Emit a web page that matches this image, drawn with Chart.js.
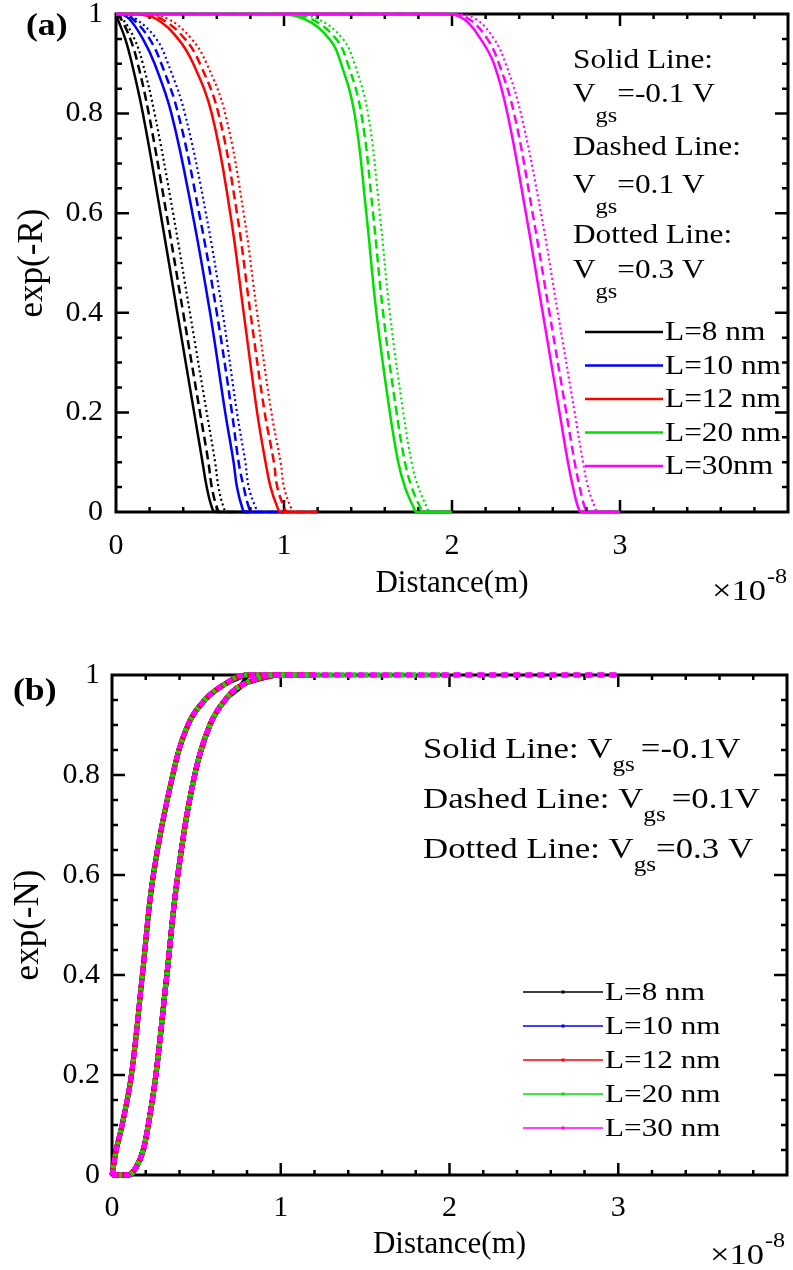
<!DOCTYPE html>
<html>
<head>
<meta charset="utf-8">
<script src="https://cdn.jsdelivr.net/npm/chart.js@4.4.1/dist/chart.umd.min.js"></script>
<style>
  html, body { margin: 0; padding: 0; background: #fff; }
  .panel { position: absolute; left: 0; width: 793px; }
  #panelA { top: 0; height: 620px; }
  #panelB { top: 620px; height: 650px; }
</style>
</head>
<body>
<div class="panel" id="panelA"><canvas id="chartA"></canvas></div>
<div class="panel" id="panelB"><canvas id="chartB"></canvas></div>
<script>
// channel lengths and their legend texts
const lengthsNm = [8, 10, 12, 20, 30];
const legendA = ['L=8 nm', 'L=10 nm', 'L=12 nm', 'L=20 nm', 'L=30nm'];
const legendB = ['L=8 nm', 'L=10 nm', 'L=12 nm', 'L=20 nm', 'L=30 nm'];
const lineColors = ['#000000', '#0000ff', '#ff0000', '#00e000', '#ff00ff'];

const xTickLabels = ['0', '1', '2', '3'];
const yTickLabels = ['0', '0.2', '0.4', '0.6', '0.8', '1'];

// exp(-R): levels, and the distance (x1e-8 m) where each curve passes them
const rLevels = [1, 0.99, 0.95, 0.9, 0.8, 0.6, 0.4, 0.2, 0.1, 0.05, 0.01, 0];
const rSolid = [
  [0.00, 0.01, 0.055, 0.095, 0.16, 0.265, 0.365, 0.465, 0.515, 0.54, 0.57, 0.59],
  [0.03, 0.08, 0.16, 0.23, 0.33, 0.455, 0.56, 0.65, 0.70, 0.72, 0.75, 0.77],
  [0.12, 0.24, 0.37, 0.46, 0.57, 0.68, 0.76, 0.84, 0.89, 0.92, 0.96, 0.98],
  [0.95, 1.12, 1.27, 1.34, 1.42, 1.49, 1.55, 1.63, 1.68, 1.72, 1.77, 1.79],
  [1.95, 2.07, 2.17, 2.25, 2.33, 2.44, 2.54, 2.64, 2.69, 2.72, 2.75, 2.77]
];
const rDashed = [
  [0.00, 0.03, 0.085, 0.13, 0.195, 0.30, 0.40, 0.50, 0.55, 0.57, 0.60, 0.62],
  [0.04, 0.10, 0.20, 0.27, 0.37, 0.495, 0.60, 0.69, 0.73, 0.76, 0.79, 0.81],
  [0.14, 0.27, 0.41, 0.50, 0.61, 0.72, 0.80, 0.885, 0.94, 0.96, 1.00, 1.02],
  [0.99, 1.16, 1.31, 1.38, 1.46, 1.53, 1.59, 1.67, 1.72, 1.76, 1.81, 1.83],
  [1.98, 2.10, 2.21, 2.28, 2.37, 2.48, 2.58, 2.68, 2.73, 2.76, 2.79, 2.81]
];
const rDotted = [
  [0.00, 0.04, 0.11, 0.16, 0.23, 0.34, 0.44, 0.54, 0.59, 0.61, 0.64, 0.66],
  [0.05, 0.12, 0.24, 0.31, 0.41, 0.535, 0.635, 0.72, 0.77, 0.79, 0.83, 0.85],
  [0.16, 0.31, 0.45, 0.54, 0.65, 0.76, 0.84, 0.925, 0.98, 1.00, 1.04, 1.06],
  [1.03, 1.20, 1.35, 1.42, 1.50, 1.57, 1.63, 1.71, 1.76, 1.80, 1.85, 1.87],
  [2.01, 2.14, 2.25, 2.32, 2.41, 2.53, 2.63, 2.73, 2.78, 2.81, 2.85, 2.87]
];

// exp(-N): same for every L, two bundles
const nLevels = [0, 0.02, 0.05, 0.1, 0.2, 0.4, 0.6, 0.8, 0.9, 0.95, 0.98, 1];
const nSolid = [0.10, 0.15, 0.185, 0.215, 0.26, 0.325, 0.39, 0.49, 0.58, 0.67, 0.77, 0.97];
const nDashed = [0.10, 0.15, 0.185, 0.215, 0.26, 0.325, 0.39, 0.49, 0.58, 0.67, 0.77, 0.97];
const nDotted = [0.00, 0.01, 0.025, 0.06, 0.115, 0.18, 0.245, 0.36, 0.45, 0.55, 0.66, 0.79];

const serif = "'Liberation Serif', 'Times New Roman', serif";

// flat start at x=0, the read crossings, then flat until the channel end
function curvePoints(xs, levels, endX) {
  const pts = [{x: 0, y: levels[0]}];
  xs.forEach((x, k) => {
    if (x > pts[pts.length - 1].x && x < endX) pts.push({x: x, y: levels[k]});
  });
  pts.push({x: endX, y: levels[levels.length - 1]});
  return pts;
}

function stretchText(ctx, text, x, y, font, sx) {
  ctx.save();
  ctx.font = font;
  ctx.translate(x, y);
  ctx.scale(sx, 1);
  ctx.fillText(text, 0, 0);
  const w = ctx.measureText(text).width * sx;
  ctx.restore();
  return w;
}

// "<lead>V" with a "gs" subscript and the value after it
function drawVgs(ctx, x, y, lead, value, o) {
  const main = o.size + 'px ' + serif;
  const sub = o.subSize + 'px ' + serif;
  let w = stretchText(ctx, lead + 'V', x, y, main, o.sx);
  w += stretchText(ctx, 'gs', x + w, y + o.subDy, sub, o.sx);
  stretchText(ctx, value, x + w + o.gap, y, main, o.sx);
}

// box frame with inward major/minor ticks on all four sides
const inwardTicks = {
  id: 'inwardTicks',
  beforeDatasetsDraw(chart) {
    const {ctx, chartArea: a, scales: {x, y}} = chart;
    ctx.save();
    ctx.strokeStyle = '#000';
    ctx.lineWidth = 3;
    ctx.strokeRect(a.left, a.top, a.width, a.height);
    ctx.lineWidth = 2.5;
    ctx.beginPath();
    for (let i = 1; i < 20; i++) {
      const px = x.getPixelForValue(i * 0.2);
      const len = i % 5 === 0 ? 12 : 5;
      ctx.moveTo(px, a.bottom); ctx.lineTo(px, a.bottom - len);
      ctx.moveTo(px, a.top); ctx.lineTo(px, a.top + len);
    }
    for (let j = 1; j < 20; j++) {
      const py = y.getPixelForValue(j * 0.05);
      const len = j % 4 === 0 ? 13 : 6;
      ctx.moveTo(a.left, py); ctx.lineTo(a.left + len, py);
      ctx.moveTo(a.right, py); ctx.lineTo(a.right - len, py);
    }
    ctx.stroke();
    ctx.restore();
  }
};

// panel letter, V_gs notes, legend and the x10^-8 factor
const notes = {
  id: 'notes',
  afterDraw(chart, args, opts) {
    const ctx = chart.ctx;
    ctx.save();
    ctx.fillStyle = '#000';
    ctx.textBaseline = 'alphabetic';
    ctx.textAlign = 'left';
    stretchText(ctx, opts.panel, opts.panelX, opts.panelY, 'bold 31px ' + serif, 1.15);

    opts.text.forEach(t => {
      if (t.value === undefined) {
        stretchText(ctx, t.lead, t.x, t.y, opts.vgs.size + 'px ' + serif, opts.vgs.sx);
      } else {
        drawVgs(ctx, t.x, t.y, t.lead, t.value, Object.assign({}, opts.vgs, t.o));
      }
    });

    const lg = opts.legend;
    lg.names.forEach((name, i) => {
      const yy = lg.y0 + i * lg.dy;
      ctx.strokeStyle = lineColors[i];
      ctx.lineWidth = lg.width;
      ctx.beginPath();
      ctx.moveTo(lg.x0, yy);
      ctx.lineTo(lg.x1, yy);
      ctx.stroke();
      if (lg.dot) {
        ctx.fillStyle = lineColors[i];
        ctx.fillRect((lg.x0 + lg.x1) / 2 - 1.5, yy - 1.5, 3, 3);
      }
      ctx.fillStyle = '#000';
      ctx.textBaseline = 'middle';
      stretchText(ctx, name, lg.x1 + 2, yy + 1, lg.size + 'px ' + serif, lg.sx);
      ctx.textBaseline = 'alphabetic';
    });

    const e = opts.exp;
    const w = stretchText(ctx, '\u00d710', e.x, e.y, '30px ' + serif, 1.15);
    stretchText(ctx, '-8', e.x + w + 1, e.y - 17, '21px ' + serif, 1.15);
    ctx.restore();
  }
};

function scaleOptions(p) {
  return {
    x: {
      type: 'linear', min: 0, max: 4,
      afterFit: s => { s.height = p.xHeight; s.paddingLeft = 0; s.paddingRight = 0; },
      grid: { display: false, drawTicks: false, tickLength: 0 },
      border: { display: false },
      ticks: {
        stepSize: 1, autoSkip: false, maxRotation: 0, padding: p.xPad, color: '#000',
        font: { family: serif, size: 30 },
        callback: (v, i) => xTickLabels[i] ?? ''
      },
      title: {
        display: true, text: 'Distance(m)', color: '#000',
        font: { family: serif, size: 31 }, padding: { top: 0, bottom: p.xTitlePad }
      }
    },
    y: {
      type: 'linear', min: 0, max: 1,
      afterFit: s => { s.width = p.yWidth; s.paddingTop = 0; s.paddingBottom = 0; },
      grid: { display: false, drawTicks: false, tickLength: 0 },
      border: { display: false },
      ticks: {
        stepSize: 0.2, autoSkip: false, padding: p.yPad, color: '#000',
        font: { family: serif, size: 30 },
        callback: (v, i) => yTickLabels[i] ?? ''
      },
      title: {
        display: true, text: p.yTitle, color: '#000',
        font: { family: serif, size: 35 }, padding: { top: p.yTitlePad, bottom: 0 }
      }
    }
  };
}

const lineLook = { tension: 0.4, cubicInterpolationMode: 'default', capBezierPoints: true, fill: false };

// ---- panel (a): exp(-R)
const dashA = [[], [9, 5], [2, 3]];
const rByStyle = [rSolid, rDashed, rDotted];
const datasetsA = [];
lengthsNm.forEach((L, i) => {
  rByStyle.forEach((table, s) => {
    datasetsA.push({
      label: legendA[i],
      data: curvePoints(table[i], rLevels, L / 10),
      borderColor: lineColors[i],
      borderWidth: s === 2 ? 2.2 : 2.5,
      borderDash: dashA[s],
      order: lengthsNm.length - i,
      clip: 4
    });
  });
});

new Chart(document.getElementById('chartA'), {
  type: 'line',
  data: { datasets: datasetsA },
  options: {
    responsive: true, maintainAspectRatio: false, animation: false,
    layout: { padding: { top: 14, right: 5, bottom: 0, left: 0 } },
    elements: { point: { radius: 0 }, line: lineLook },
    scales: scaleOptions({ xHeight: 108, xPad: 16, xTitlePad: 18, yWidth: 116, yPad: 13, yTitle: 'exp(-R)', yTitlePad: 12 }),
    plugins: {
      legend: { display: false },
      tooltip: { enabled: false },
      notes: {
        panel: '(a)', panelX: 26, panelY: 35,
        vgs: { size: 27, subSize: 21, sx: 1.16, subDy: 20, gap: 0 },
        text: [
          { lead: 'Solid Line:', x: 573, y: 68 },
          { lead: '', value: '=-0.1 V', x: 573, y: 102 },
          { lead: 'Dashed Line:', x: 573, y: 155 },
          { lead: '', value: '=0.1 V', x: 573, y: 193 },
          { lead: 'Dotted Line:', x: 573, y: 243 },
          { lead: '', value: '=0.3 V', x: 573, y: 278 }
        ],
        legend: { names: legendA, x0: 585, x1: 663, y0: 332, dy: 33.5, width: 2.5, dot: false, size: 27, sx: 1.16 },
        exp: { x: 712, y: 600 }
      }
    }
  },
  plugins: [inwardTicks, notes]
});

// ---- panel (b): exp(-N)
const nByStyle = [nSolid, nDashed, nDotted];
const datasetsB = [];
lengthsNm.forEach((L, i) => {
  nByStyle.forEach((xs, s) => {
    datasetsB.push({
      label: legendB[i],
      data: curvePoints(xs, nLevels, L / 10),
      borderColor: lineColors[i],
      borderWidth: 5,
      borderDash: i === 4 ? [6, 6] : (i === 3 ? [3, 9] : []),
      borderDashOffset: i === 3 ? -7 : 0,
      order: lengthsNm.length - i,
      clip: 5
    });
  });
});

new Chart(document.getElementById('chartB'), {
  type: 'line',
  data: { datasets: datasetsB },
  options: {
    responsive: true, maintainAspectRatio: false, animation: false,
    layout: { padding: { top: 55, right: 6, bottom: 0, left: 0 } },
    elements: { point: { radius: 0 }, line: lineLook },
    scales: scaleOptions({ xHeight: 95, xPad: 15, xTitlePad: 7, yWidth: 112, yPad: 12, yTitle: 'exp(-N)', yTitlePad: 8 }),
    plugins: {
      legend: { display: false },
      tooltip: { enabled: false },
      notes: {
        panel: '(b)', panelX: 13, panelY: 80,
        vgs: { size: 29, subSize: 21, sx: 1.2, subDy: 13, gap: 6 },
        text: [
          { lead: 'Solid Line: ', value: '=-0.1V', x: 423, y: 138 },
          { lead: 'Dashed Line: ', value: '=0.1V', x: 423, y: 188 },
          { lead: 'Dotted Line: ', value: '=0.3 V', x: 423, y: 238, o: { gap: 0 } }
        ],
        legend: { names: legendB, x0: 523, x1: 603, y0: 372, dy: 34, width: 1.5, dot: true, size: 26, sx: 1.2 },
        exp: { x: 710, y: 644 }
      }
    }
  },
  plugins: [inwardTicks, notes]
});
</script>
</body>
</html>
